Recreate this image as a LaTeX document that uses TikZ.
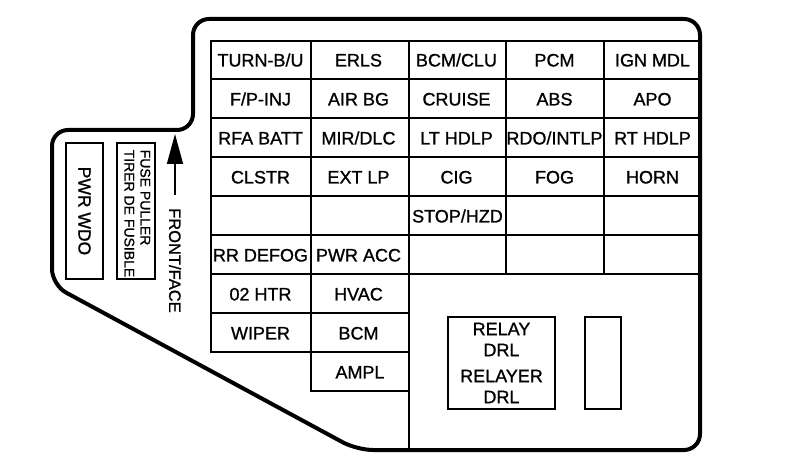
\documentclass[tikz,border=0pt]{standalone}
\usepackage{fontspec}
\setmainfont{Liberation Sans}[FakeBold=1]
\usetikzlibrary{arrows.meta}

\begin{document}
\begin{tikzpicture}[x=1pt,y=-1pt,
  border/.style={line width=4pt, rounded corners=16pt, line join=round},
  grid/.style={line width=2.2pt, line cap=rect},
  thinbox/.style={draw, line width=1.3pt},
  cell/.style={font=\fontsize{18}{21}\selectfont, inner sep=0pt, text height=12.9pt, text depth=0pt},
  sidetext/.style={rotate=-90, inner sep=0pt}]
\useasboundingbox (0,0) rectangle (792,465);
\draw[border] (193,80) -- (193,19) -- (700,19) -- (700,450) -- (357,450) -- (52,285) -- (52,130) -- (193,130) -- cycle;
\foreach \y in {41,79,118,157,196,235,274}
  \draw[grid] (211,\y) -- (700,\y);
\draw[grid] (211,313) -- (409,313) (211,352) -- (409,352) (311,391) -- (409,391);
\draw[grid] (211,41) -- (211,352) (311,41) -- (311,391) (409,41) -- (409,450) (506,41) -- (506,274) (604,41) -- (604,274);
\foreach \row [count=\r] in {{TURN-B/U,ERLS,BCM/CLU,PCM,IGN MDL},{F/P-INJ,AIR BG,CRUISE,ABS,APO},{RFA BATT,MIR/DLC,LT HDLP,RDO/INTLP,RT HDLP},{CLSTR,EXT LP,CIG,FOG,HORN}}
  \foreach \txt [count=\c] in \row
    \node[cell] (c\r-\c) at ({162.5+98*\c},{21+39*\r}) {\txt};
\node[cell] (c5-3) at (457.5,216) {STOP/HZD};
\foreach \row [count=\r from 6] in {{RR DEFOG,PWR ACC},{02 HTR,HVAC},{WIPER,BCM}}
  \foreach \txt [count=\c] in \row
    \node[cell] (c\r-\c) at ({162.5+98*\c},{21+39*\r}) {\txt};
\node[cell] (c9-2) at (360,372) {AMPL};
\node[thinbox, rotate=-90, minimum width=136pt, minimum height=37pt, font=\fontsize{17.5}{20}\selectfont] (wdo) at (84.5,211) {PWR WDO};
\node[thinbox, rotate=-90, minimum width=136pt, minimum height=38pt] (pullerbox) at (136,211) {};
\node[sidetext, anchor=north west, align=left, font=\fontsize{14}{16}\selectfont] (puller) at (150.5,149.5) {FUSE PULLER\\TIRER DE FUSIBLE};
\coordinate (tip) at (175,134);
\node[sidetext, anchor=west, font=\fontsize{16.5}{18}\selectfont] (front) at (175,208) {FRONT/FACE};
\draw[line width=1.6pt, -{Triangle[length=30pt, width=16pt]}] ([yshift=13pt]front.west) -- (tip);
\node[thinbox, minimum width=107pt, minimum height=92pt, align=center, font=\fontsize{18}{21}\selectfont] (relay) at (501.5,363) {RELAY\\DRL\\[5pt]RELAYER\\DRL};
\node[thinbox, minimum width=36pt, minimum height=92pt] (spare) at (603,363) {};
\end{tikzpicture}
\end{document}
